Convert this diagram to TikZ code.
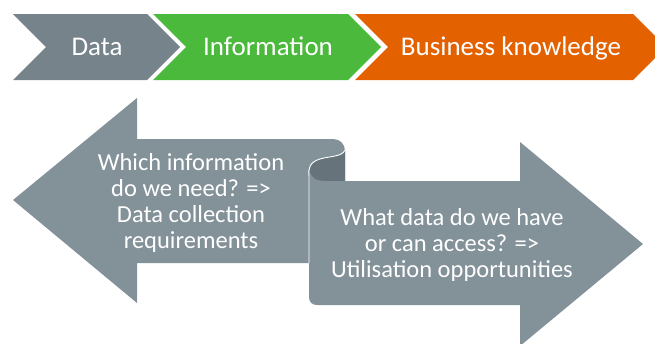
\documentclass[tikz,border=0pt]{standalone}
\usepackage{fontspec}
\setmainfont{Carlito}
\definecolor{stagegrey}{RGB}{118,131,139}
\definecolor{stagegreen}{RGB}{74,185,60}
\definecolor{stageorange}{RGB}{228,97,0}
\definecolor{arrowgrey}{RGB}{131,145,153}
\definecolor{rolldark}{RGB}{102,115,123}
\begin{document}
\begin{tikzpicture}[x=1pt,y=-1pt,
stagelabel/.style={text=white,font=\fontsize{27}{32}\selectfont,inner sep=0pt,anchor=base},
arrowlabel/.style={text=white,align=center,font=\fontsize{24.5}{26}\selectfont,inner sep=0pt}]
\useasboundingbox (0,0) rectangle (655,343);
\clip (0,0) rectangle (655,343);
% top chevrons
\fill[stagegrey] (13,14) -- (147,14) -- (180,47) -- (147,80) -- (13,80) -- (46,47) -- cycle;
\fill[stagegreen] (153,14) -- (348,14) -- (381,47) -- (348,80) -- (153,80) -- (186,47) -- cycle;
\fill[stageorange] (355,14) -- (633,14) -- (666,47) -- (633,80) -- (355,80) -- (388,47) -- cycle;
\node (data) at (97,55) [stagelabel] {Data};
\node (info) at (268,55) [stagelabel] {Information};
\node (knowledge) at (511,55) [stagelabel] {Business knowledge};
% left arrow
\fill[arrowgrey] (13,200) -- (137,98) -- (137,139) -- (333,139) .. controls (340,139) and (345,144) .. (345,151)
  -- (345,200) -- (309,200) -- (309,263) -- (137,263) -- (137,303) -- cycle;
% inside of the roll
\fill[rolldark] (345,150) .. controls (342,157) and (330,156) .. (320,159) .. controls (310,162) and (307,170) .. (312,176)
  .. controls (315,180) and (320,181) .. (326,181) -- (345,181) -- cycle;
% right arrow
\fill[arrowgrey] (309,176) -- (309,297) .. controls (309,302) and (312,305) .. (317,305) -- (520,305) -- (520,346)
  -- (643,244) -- (520,142) -- (520,181) -- (326,181) .. controls (316,181) and (310,180) .. (309,176) -- cycle;
\draw[white,line width=0.9pt] (345,150) .. controls (342,157) and (330,156) .. (320,159) .. controls (310,162) and (308,168) .. (309,176) -- (309,263);
\node (need) at (191,203) [arrowlabel] {Which information\\do we need? =>\\Data collection\\requirements};
\node (have) at (452,245) [arrowlabel] {What data do we have\\or can access? =>\\Utilisation opportunities};
\end{tikzpicture}
\end{document}
